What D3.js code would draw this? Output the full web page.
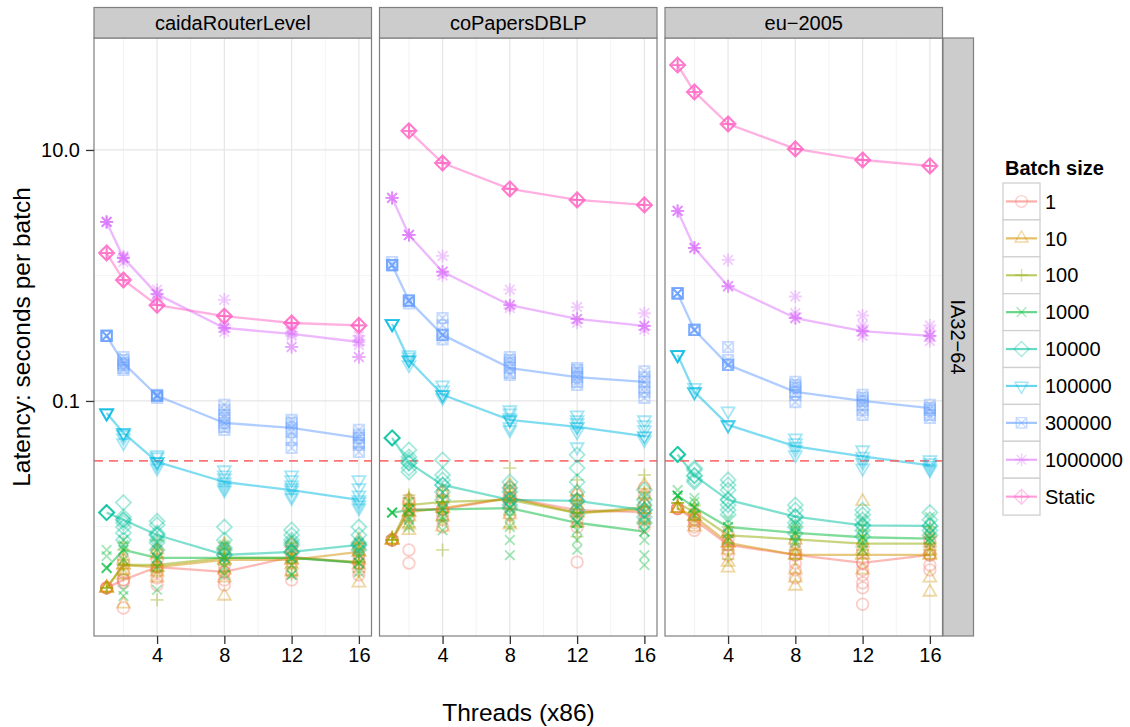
<!DOCTYPE html>
<html><head><meta charset="utf-8">
<script src="https://cdn.jsdelivr.net/npm/d3@7"></script>
<style>
body{margin:0;background:#fff}
svg{display:block}
text{font-family:"Liberation Sans",Arial,Helvetica,sans-serif;fill:#000}
</style>
</head><body>
<svg id="chart" width="1130" height="727"></svg>
<script>
// ---------------- data ----------------
const panels = ["caidaRouterLevel", "coPapersDBLP", "eu\u22122005"];
const rowStrip = "IA32\u221264";
const threads = [1, 2, 4, 8, 12, 16];
const batches = ["1", "10", "100", "1000", "10000", "100000", "300000", "1000000", "Static"];
const colors = ["#F8766D", "#D39200", "#93AA00", "#00BA38", "#00C19F", "#00B9E3", "#619CFF", "#DB72FB", "#FF61C3"];
const shapes = ["circle", "triangle", "plus", "cross", "diamond", "triangleDown", "squareCross", "asterisk", "diamondPlus"];
const xTicks = [4, 8, 12, 16];
const xMinor = [2, 6, 10, 14];
const yTicks = [0.1, 10];
const yTickLabels = ["0.1", "10.0"];
const yMinor = [0.01, 1];
const refLatency = 1 / 30;
const xDomain = [0.25, 16.75];
const yDomain = [0.00134, 78];

// mean latency lines, one array per batch size (order of `batches`), per thread count
const caidaLines = [
  [0.00324, 0.00375, 0.00475, 0.00434, 0.00571, 0.00512],
  [0.00324, 0.00493, 0.00475, 0.00541, 0.00541, 0.00627],
  [0.00324, 0.00493, 0.00493, 0.00561, 0.00561, 0.00521],
  [0.00467, 0.0065, 0.00561, 0.00561, 0.00561, 0.00512],
  [0.0129, 0.0113, 0.00855, 0.00593, 0.00627, 0.00713],
  [0.080, 0.0556, 0.0327, 0.0226, 0.0195, 0.0163],
  [0.33, 0.20, 0.11, 0.0668, 0.061, 0.0507],
  [2.67, 1.38, 0.71, 0.382, 0.342, 0.295],
  [1.51, 0.92, 0.58, 0.475, 0.418, 0.40]
];
const coPapersLines = [
  [0.0078, 0.0137, 0.0137, 0.0169, 0.0135, 0.0130],
  [0.0078, 0.0130, 0.0140, 0.0169, 0.0128, 0.0137],
  [0.0078, 0.0148, 0.0157, 0.0163, 0.0128, 0.0142],
  [0.0129, 0.0135, 0.0137, 0.0140, 0.0107, 0.0091],
  [0.0507, 0.0321, 0.0214, 0.0163, 0.0160, 0.0135],
  [0.411, 0.212, 0.112, 0.0706, 0.0621, 0.0525],
  [1.21, 0.63, 0.336, 0.183, 0.155, 0.142],
  [4.15, 2.10, 1.07, 0.58, 0.45, 0.396],
  [null, 14.2, 7.87, 4.89, 4.0, 3.65]
];
const euLines = [
  [0.0139, 0.0113, 0.00713, 0.00593, 0.00512, 0.00593],
  [0.0139, 0.0120, 0.0074, 0.00593, 0.00593, 0.00593],
  [0.0154, 0.0130, 0.0085, 0.0079, 0.0073, 0.0073],
  [0.0176, 0.0142, 0.0099, 0.0089, 0.0082, 0.0080],
  [0.0375, 0.0254, 0.0163, 0.0120, 0.0102, 0.0101],
  [0.233, 0.118, 0.0644, 0.0434, 0.0362, 0.0307],
  [0.72, 0.368, 0.194, 0.118, 0.100, 0.0877],
  [3.27, 1.66, 0.82, 0.458, 0.36, 0.33],
  [47.5, 29.0, 16.1, 10.2, 8.32, 7.46]
];

// individual runs: per batch size, per thread count
const caidaTrials = [
  [[0.00324,0.00324,0.00324,0.00324],[0.00224,0.00375,0.00434,0.00355,0.00541,0.00375],[0.00475,0.0065,0.00389,0.00541,0.00342,0.00434,0.00475],[0.00434,0.00493,0.00375,0.00593,0.0065,0.00342,0.00434],[0.00561,0.00521,0.0065,0.00434,0.00375,0.00713,0.00561],[0.00512,0.0045,0.00593,0.00675,0.00411,0.00541,0.00512]],
  [[0.00324,0.00324,0.00324,0.00324],[0.00493,0.00411,0.00541,0.00241,0.0045,0.00493],[0.00475,0.00593,0.00389,0.0065,0.00434,0.00475],[0.00541,0.00713,0.00279,0.0045,0.0065,0.00389,0.00541],[0.00541,0.0074,0.00434,0.0065,0.00493,0.00541],[0.00627,0.00713,0.00355,0.00541,0.0078,0.00493,0.00627]],
  [[0.00324,0.00324,0.00324],[0.00493,0.0065,0.00411,0.00541,0.0074,0.00493],[0.00493,0.0026,0.0065,0.00434,0.00571,0.0078,0.00493],[0.00561,0.0074,0.00434,0.0065,0.00493,0.00561],[0.00561,0.00411,0.0074,0.00475,0.0065,0.00561],[0.00521,0.0065,0.00434,0.00593,0.0074,0.00521]],
  [[0.00467,0.00467,0.00467,0.0065,0.0058],[0.0065,0.00312,0.00279,0.00541,0.00713,0.0078,0.0065],[0.00561,0.00312,0.0065,0.00475,0.00713,0.00561],[0.00561,0.0065,0.00475,0.00713,0.00411,0.00561],[0.00561,0.00411,0.00411,0.0065,0.00493,0.00713,0.00561],[0.00512,0.0065,0.00434,0.00593,0.0074,0.00512]],
  [[0.0129,0.0129,0.0129,0.0129,0.0129],[0.0113,0.0119,0.0155,0.0107,0.0099,0.00887,0.0078,0.0113],[0.00855,0.0103,0.011,0.00887,0.0078,0.0074,0.0065,0.00855],[0.00593,0.0099,0.0078,0.00675,0.0065,0.00593],[0.00627,0.00938,0.0078,0.0074,0.00713,0.00855,0.00627],[0.00713,0.0099,0.00855,0.0074,0.0065,0.00713]],
  [[0.080,0.080,0.080,0.080,0.080],[0.0556,0.0556,0.0556,0.0463,0.0507,0.0536],[0.0327,0.0327,0.0327,0.0358,0.0292,0.0372,0.0309],[0.0226,0.0257,0.0243,0.0214,0.0203,0.0282,0.0195],[0.0195,0.0235,0.0214,0.0178,0.0169,0.0257,0.0203],[0.0163,0.0203,0.0178,0.0148,0.014,0.0235,0.0157]],
  [[0.33,0.33,0.33,0.33,0.33],[0.20,0.224,0.183,0.177,0.212,0.194],[0.11,0.11,0.11,0.11,0.106,0.112],[0.0668,0.0773,0.0848,0.0588,0.0621,0.0732,0.093],[0.061,0.0706,0.0668,0.0566,0.0489,0.0422],[0.0507,0.0588,0.0536,0.0463,0.0392,0.0446]],
  [[2.67,2.67,2.67,2.67,2.67],[1.38,1.38,1.38,1.38,1.28,1.43],[0.71,0.71,0.71,0.77,0.64],[0.382,0.382,0.382,0.64,0.355,0.40],[0.342,0.382,0.269,0.269,0.355,0.33],[0.295,0.33,0.224,0.224,0.306,0.279]],
  [[1.51,1.51,1.51,1.51],[0.92,0.92,0.92,0.92],[0.58,0.58,0.58,0.58],[0.475,0.475,0.475,0.475],[0.418,0.418,0.418,0.418],[0.40,0.40,0.40,0.40]]
];
const coPapersTrials = [
  [[0.0078,0.0078,0.0078,0.0078],[0.0137,0.0157,0.0119,0.0065,0.0051,0.0163,0.0137],[0.0137,0.0163,0.0113,0.0099,0.0188,0.0124,0.0137],[0.0169,0.0188,0.0148,0.0203,0.0124,0.0157,0.0169],[0.0135,0.0163,0.0113,0.0052,0.0178,0.0099,0.0135],[0.013,0.0178,0.0203,0.0113,0.0148,0.0099,0.013]],
  [[0.0078,0.0078,0.0078,0.0078],[0.013,0.0148,0.0119,0.0163,0.0103,0.0093,0.013],[0.014,0.0163,0.0119,0.0188,0.0099,0.014],[0.0169,0.0214,0.0148,0.0188,0.0124,0.0103,0.0169],[0.0128,0.0163,0.0188,0.0107,0.0148,0.0128],[0.0137,0.0178,0.0214,0.0113,0.0157,0.0137]],
  [[0.0078,0.0078,0.0078,0.0083],[0.0148,0.0178,0.0124,0.0099,0.0169,0.0148],[0.0157,0.0195,0.0129,0.0065,0.0113,0.0173,0.0157],[0.0163,0.0292,0.0214,0.0124,0.0188,0.0099,0.0163],[0.0128,0.0235,0.0163,0.0099,0.0178,0.0083,0.0128],[0.0142,0.0257,0.0188,0.0107,0.0169,0.0142]],
  [[0.0129,0.0129,0.0129,0.0129],[0.0135,0.0157,0.0113,0.0099,0.0119,0.0135],[0.0137,0.0163,0.0113,0.0093,0.0119,0.0137],[0.014,0.0119,0.0099,0.0059,0.0163,0.0078,0.014],[0.0107,0.0124,0.0093,0.0078,0.0065,0.0148,0.0107],[0.0091,0.0107,0.0078,0.0059,0.0119,0.00493,0.0091]],
  [[0.0507,0.0507,0.0507,0.0507,0.0507],[0.0321,0.0358,0.0407,0.0292,0.0272,0.0339,0.0321],[0.0214,0.0339,0.0257,0.0188,0.0163,0.0235,0.0214],[0.0163,0.0203,0.0188,0.0148,0.014,0.0226,0.0163],[0.016,0.0372,0.0292,0.0226,0.0188,0.0135,0.0124,0.016],[0.0135,0.0195,0.0163,0.0119,0.0107,0.0148,0.0135]],
  [[0.411,0.411,0.411,0.411,0.411],[0.212,0.212,0.212,0.224,0.233,0.194],[0.112,0.112,0.112,0.122,0.134,0.106],[0.0706,0.0848,0.080,0.0732,0.0621,0.0588,0.0706],[0.0621,0.0773,0.0706,0.0668,0.0566,0.043,0.0621],[0.0525,0.0706,0.0644,0.0588,0.0489,0.0525]],
  [[1.21,1.21,1.21,1.21,1.28],[0.63,0.63,0.63,0.63,0.60],[0.336,0.336,0.336,0.458,0.40,0.31],[0.183,0.212,0.201,0.167,0.161,0.224],[0.155,0.183,0.167,0.142,0.134,0.177],[0.142,0.172,0.155,0.128,0.118,0.106]],
  [[4.15,4.15,4.15,4.15],[2.10,2.10,2.10,2.10],[1.07,1.07,1.07,1.43,1.0],[0.58,0.58,0.58,0.77,0.55],[0.45,0.45,0.45,0.56,0.42],[0.396,0.396,0.396,0.50,0.37]],
  [[],[14.2,14.2,14.2,14.2],[7.87,7.87,7.87,7.87],[4.89,4.89,4.89,4.89],[4.0,4.0,4.0,4.0],[3.65,3.65,3.65,3.65]]
];
const euTrials = [
  [[0.0139,0.0139,0.0139,0.0139],[0.0113,0.0124,0.0099,0.0093,0.0107,0.0113],[0.00713,0.0078,0.0065,0.00593,0.0088,0.00713],[0.00593,0.0065,0.00512,0.0045,0.00389,0.0074,0.00593],[0.00512,0.0041,0.00355,0.00324,0.0024,0.0065,0.0045,0.00512],[0.00593,0.0065,0.00493,0.0074,0.0045,0.0078,0.00593]],
  [[0.0139,0.0139,0.0139,0.0139],[0.012,0.0135,0.0107,0.0099,0.012],[0.0074,0.00467,0.0052,0.0088,0.0065,0.0074],[0.00593,0.00389,0.00335,0.0078,0.0045,0.0065,0.00593],[0.00593,0.0158,0.0074,0.0045,0.0065,0.00593],[0.00593,0.003,0.00389,0.0074,0.0065,0.0088,0.00593]],
  [[0.0154,0.0154,0.0154],[0.013,0.0148,0.0113,0.013],[0.0085,0.0099,0.0065,0.0074,0.0055,0.0085],[0.0079,0.0099,0.0065,0.0055,0.0088,0.0079],[0.0073,0.0093,0.0059,0.0085,0.0065,0.0073],[0.0073,0.0088,0.0059,0.0065,0.0099,0.0073]],
  [[0.0176,0.0176,0.0176,0.0176,0.0195],[0.0142,0.0157,0.0124,0.0169,0.0142],[0.0099,0.0113,0.0088,0.0078,0.0099],[0.0089,0.0107,0.0078,0.0099,0.0074,0.0089],[0.0082,0.0099,0.0113,0.0074,0.0065,0.0082],[0.008,0.0099,0.0119,0.0074,0.0088,0.008]],
  [[0.0375,0.0375,0.0375,0.0375,0.0375],[0.0254,0.0282,0.0292,0.0226,0.0235,0.0254],[0.0163,0.0235,0.0214,0.0195,0.0148,0.0135,0.0124,0.0163],[0.012,0.0148,0.0135,0.0107,0.0099,0.0088,0.012],[0.0102,0.0135,0.0124,0.0113,0.0093,0.0083,0.0102],[0.0101,0.0129,0.0113,0.0093,0.0085,0.0101]],
  [[0.233,0.233,0.233,0.233,0.233],[0.118,0.118,0.118,0.128],[0.0644,0.0644,0.0644,0.083],[0.0434,0.0507,0.0463,0.0407,0.0372],[0.0362,0.0407,0.0339,0.0321,0.0292],[0.0307,0.0339,0.0321,0.0282,0.0292]],
  [[0.72,0.72,0.72,0.72,0.72],[0.368,0.368,0.368,0.368],[0.194,0.194,0.194,0.269,0.212],[0.118,0.142,0.134,0.112,0.098,0.128],[0.10,0.112,0.106,0.093,0.0848,0.0773],[0.0877,0.093,0.0848,0.0773,0.0732]],
  [[3.27,3.27,3.27,3.27],[1.66,1.66,1.66,1.66],[0.82,0.82,0.82,1.33],[0.458,0.458,0.458,0.68,0.5],[0.36,0.36,0.36,0.48,0.40,0.33],[0.33,0.33,0.33,0.40,0.36,0.30]],
  [[47.5,47.5,47.5,47.5],[29.0,29.0,29.0,29.0],[16.1,16.1,16.1,16.1],[10.2,10.2,10.2,10.2],[8.32,8.32,8.32,8.32],[7.46,7.46,7.46,7.46]]
];
const panelLines = [caidaLines, coPapersLines, euLines];
const panelTrials = [caidaTrials, coPapersTrials, euTrials];

// ---------------- layout ----------------
const svg = d3.select("#chart");
const panelTop = 38, panelBottom = 636, panelW = 277.5;
const panelLefts = [94, 379.5, 665];
const stripTop = 7.5;
const rightStripX = 943, rightStripW = 30.5;
const fontSmall = 20, fontTitle = 24.5;

const y = d3.scaleLog().domain(yDomain).range([panelBottom, panelTop]);

function symbolPath(type) {
  const r = 5.8, t = 7.4, d = 7.5, sq = 5.2, c = 4.8, p = 6.5;
  switch (type) {
    case "circle": return `M${r},0A${r},${r} 0 1 1 ${-r},0A${r},${r} 0 1 1 ${r},0Z`;
    case "triangle": return `M0,${-t}L${t*0.87},${t*0.5}L${-t*0.87},${t*0.5}Z`;
    case "triangleDown": return `M0,${t}L${t*0.87},${-t*0.5}L${-t*0.87},${-t*0.5}Z`;
    case "plus": return `M${-p},0L${p},0M0,${-p}L0,${p}`;
    case "cross": return `M${-c},${-c}L${c},${c}M${-c},${c}L${c},${-c}`;
    case "diamond": return `M0,${-d}L${d},0L0,${d}L${-d},0Z`;
    case "squareCross": return `M${-sq},${-sq}H${sq}V${sq}H${-sq}Z M${-sq},${-sq}L${sq},${sq}M${-sq},${sq}L${sq},${-sq}`;
    case "asterisk": return `M${-p},0L${p},0M0,${-p}L0,${p}M${-c},${-c}L${c},${c}M${-c},${c}L${c},${-c}`;
    case "diamondPlus": return `M0,${-d}L${d},0L0,${d}L${-d},0Z M${-d},0L${d},0M0,${-d}L0,${d}`;
  }
}

const defs = svg.append("defs");

panels.forEach((name, pi) => {
  const x0 = panelLefts[pi];
  const x = d3.scaleLinear().domain(xDomain).range([x0, x0 + panelW]);
  const g = svg.append("g");

  g.append("rect").attr("x", x0).attr("y", panelTop).attr("width", panelW)
    .attr("height", panelBottom - panelTop).attr("fill", "#fff");

  // grid
  g.selectAll(".vminor").data(xMinor).join("line")
    .attr("x1", d => x(d)).attr("x2", d => x(d)).attr("y1", panelTop).attr("y2", panelBottom)
    .attr("stroke", "#f3f3f3").attr("stroke-width", 1);
  g.selectAll(".hminor").data(yMinor).join("line")
    .attr("y1", d => y(d)).attr("y2", d => y(d)).attr("x1", x0).attr("x2", x0 + panelW)
    .attr("stroke", "#f5f5f5").attr("stroke-width", 1);
  g.selectAll(".vmajor").data(xTicks).join("line")
    .attr("x1", d => x(d)).attr("x2", d => x(d)).attr("y1", panelTop).attr("y2", panelBottom)
    .attr("stroke", "#e6e6e6").attr("stroke-width", 1.2);
  g.selectAll(".hmajor").data(yTicks).join("line")
    .attr("y1", d => y(d)).attr("y2", d => y(d)).attr("x1", x0).attr("x2", x0 + panelW)
    .attr("stroke", "#e6e6e6").attr("stroke-width", 1.2);

  defs.append("clipPath").attr("id", "clip" + pi).append("rect")
    .attr("x", x0).attr("y", panelTop).attr("width", panelW).attr("height", panelBottom - panelTop);
  const plot = g.append("g").attr("clip-path", `url(#clip${pi})`);

  const line = d3.line().defined(d => d.v != null).x(d => x(d.t)).y(d => y(d.v));
  batches.forEach((b, bi) => {
    const pts = threads.map((t, ti) => ({ t, v: panelLines[pi][bi][ti] }));
    plot.append("path").attr("d", line(pts)).attr("fill", "none")
      .attr("stroke", colors[bi]).attr("stroke-opacity", 0.5).attr("stroke-width", 2.3)
      .attr("stroke-linejoin", "round");
  });

  plot.append("line").attr("x1", x0).attr("x2", x0 + panelW)
    .attr("y1", y(refLatency)).attr("y2", y(refLatency))
    .attr("stroke", "#ff5c5c").attr("stroke-opacity", 0.85).attr("stroke-width", 1.6)
    .attr("stroke-dasharray", "9,6");

  batches.forEach((b, bi) => {
    const runs = [];
    threads.forEach((t, ti) => panelTrials[pi][bi][ti].forEach(v => runs.push({ t, v })));
    plot.selectAll(null).data(runs).join("path")
      .attr("transform", d => `translate(${x(d.t)},${y(d.v)})`)
      .attr("d", symbolPath(shapes[bi]))
      .attr("fill", "none").attr("stroke", colors[bi]).attr("stroke-opacity", 0.36)
      .attr("stroke-width", 1.8);
  });

  g.append("rect").attr("x", x0).attr("y", panelTop).attr("width", panelW)
    .attr("height", panelBottom - panelTop).attr("fill", "none")
    .attr("stroke", "#7f7f7f").attr("stroke-width", 1.2);

  // strip
  g.append("rect").attr("x", x0).attr("y", stripTop).attr("width", panelW)
    .attr("height", panelTop - stripTop).attr("fill", "#cccccc")
    .attr("stroke", "#7f7f7f").attr("stroke-width", 1.2);
  g.append("text").attr("x", x0 + panelW / 2).attr("y", (stripTop + panelTop) / 2)
    .attr("dy", "0.36em").attr("text-anchor", "middle")
    .style("font-size", fontSmall + "px").text(name);

  // x axis
  const ax = g.append("g").attr("transform", `translate(0,${panelBottom})`)
    .call(d3.axisBottom(x).tickValues(xTicks).tickSize(8).tickPadding(4).tickFormat(d3.format("d")));
  ax.select(".domain").remove();
  ax.selectAll(".tick line").attr("stroke", "#333").attr("stroke-width", 1.3);
  ax.selectAll(".tick text").style("font-size", fontSmall + "px")
    .style("font-family", '"Liberation Sans",Arial,sans-serif').attr("fill", "#000");

  if (pi === 0) {
    const ay = g.append("g").attr("transform", `translate(${x0},0)`)
      .call(d3.axisLeft(y).tickValues(yTicks).tickSize(8).tickPadding(6)
        .tickFormat((d, i) => yTickLabels[i]));
    ay.select(".domain").remove();
    ay.selectAll(".tick line").attr("stroke", "#333").attr("stroke-width", 1.3);
    ay.selectAll(".tick text").style("font-size", fontSmall + "px")
      .style("font-family", '"Liberation Sans",Arial,sans-serif').attr("fill", "#000");
  }
});

// right strip
svg.append("rect").attr("x", rightStripX).attr("y", panelTop).attr("width", rightStripW)
  .attr("height", panelBottom - panelTop).attr("fill", "#cccccc")
  .attr("stroke", "#7f7f7f").attr("stroke-width", 1.2);
svg.append("text")
  .attr("transform", `translate(${rightStripX + rightStripW / 2},${(panelTop + panelBottom) / 2}) rotate(90)`)
  .attr("text-anchor", "middle").attr("dy", "0.36em")
  .style("font-size", fontSmall + "px").text(rowStrip);

// axis titles
svg.append("text").attr("x", (panelLefts[0] + rightStripX) / 2).attr("y", 721)
  .attr("text-anchor", "middle").style("font-size", fontTitle + "px").text("Threads (x86)");
svg.append("text")
  .attr("transform", `translate(30,${(panelTop + panelBottom) / 2}) rotate(-90)`)
  .attr("text-anchor", "middle").style("font-size", fontTitle + "px")
  .text("Latency: seconds per batch");

// legend
const lg = svg.append("g");
lg.append("text").attr("x", 1005).attr("y", 175).style("font-size", fontSmall + "px")
  .style("font-weight", "bold").text("Batch size");
const keyH = 36.9, keyW = 37, keyX = 1003, keyY = 183;
batches.forEach((b, bi) => {
  const ky = keyY + bi * keyH;
  lg.append("rect").attr("x", keyX).attr("y", ky).attr("width", keyW).attr("height", keyH)
    .attr("fill", "#fff").attr("stroke", "#d0d0d0").attr("stroke-width", 1.3);
  lg.append("line").attr("x1", keyX + 3).attr("x2", keyX + keyW - 3)
    .attr("y1", ky + keyH / 2).attr("y2", ky + keyH / 2)
    .attr("stroke", colors[bi]).attr("stroke-opacity", 0.6).attr("stroke-width", 2.2);
  lg.append("path").attr("transform", `translate(${keyX + keyW / 2},${ky + keyH / 2})`)
    .attr("d", symbolPath(shapes[bi])).attr("fill", "none")
    .attr("stroke", colors[bi]).attr("stroke-opacity", 0.35).attr("stroke-width", 1.4);
  lg.append("text").attr("x", 1045).attr("y", ky + keyH / 2).attr("dy", "0.36em")
    .style("font-size", fontSmall + "px").text(b);
});
</script>
</body></html>
